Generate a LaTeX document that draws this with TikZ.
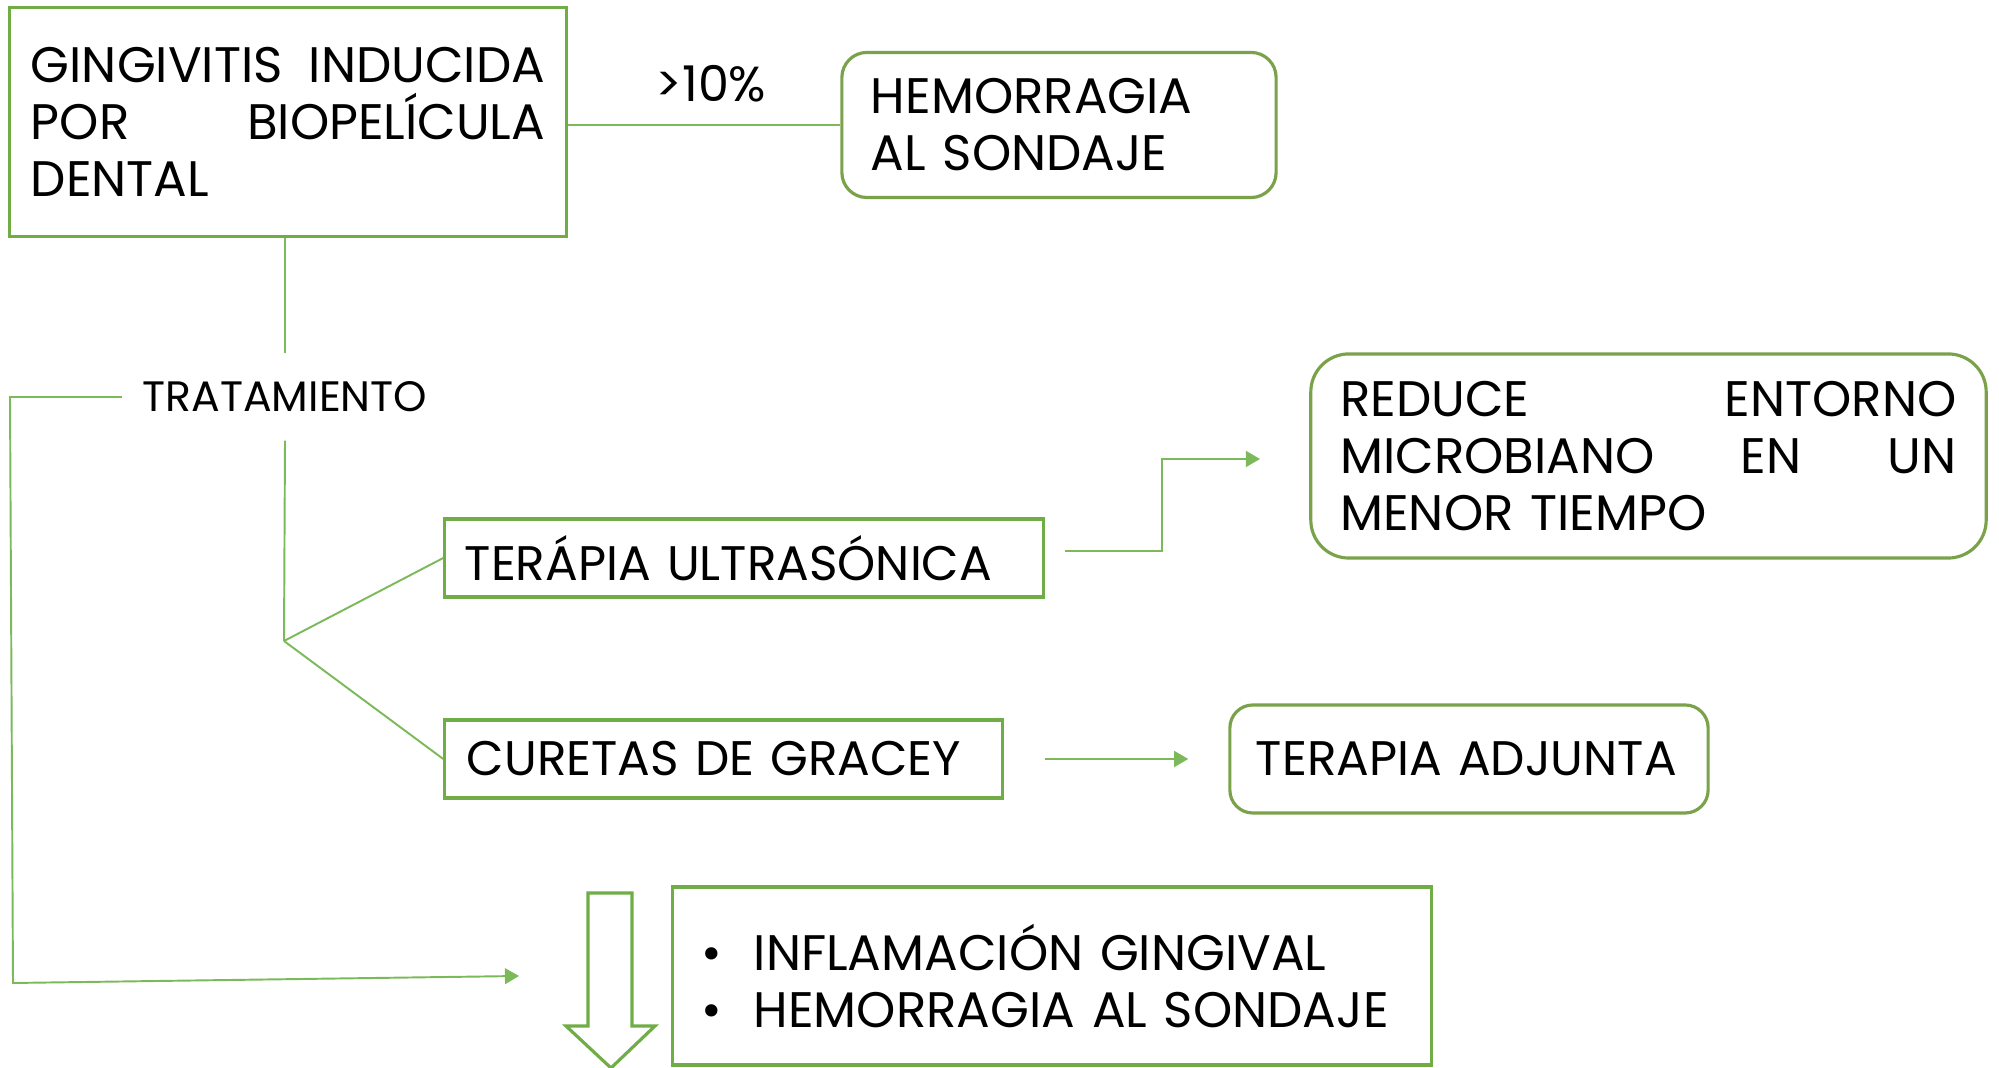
\documentclass[tikz,border=0pt]{standalone}
\usepackage{fontspec}
\setmainfont{Poppins}
\usetikzlibrary{arrows.meta}
\definecolor{gbox}{HTML}{70AD47}
\definecolor{gline}{HTML}{7CB95A}
\definecolor{ground}{HTML}{7AA24A}
\hyphenpenalty=10000\relax
\exhyphenpenalty=10000\relax
\begin{document}
\begin{tikzpicture}[x=0.01cm,y=-0.01cm,
  txt/.style={font=\fontsize{14.2}{16.2}\selectfont, text=black},
  small/.style={font=\fontsize{13.8}{16}\selectfont},
  sqbox/.style={txt, draw=gbox, line width=0.9pt, inner sep=0pt, align=left},
  rbox/.style={txt, draw=ground, line width=0.9pt, rounded corners=0.25cm, inner sep=0pt, align=left},
  conn/.style={draw=gline, line width=0.55pt},
  arr/.style={conn, -{Triangle[length=4pt,width=4.5pt]}}
]
\useasboundingbox (0,0) rectangle (1999,1068);

\node[sqbox, minimum width=5.56cm, minimum height=2.29cm, text width=5.14cm] (gin) at (288,122)
  {\mbox{GINGIVITIS}\hfill \mbox{INDUCIDA}\\POR\hfill \mbox{BIOPELÍCULA}\\DENTAL};
\node[rbox, minimum width=4.34cm, minimum height=1.45cm, text width=3.76cm] (hem) at (1059,125)
  {\mbox{HEMORRAGIA}\\\mbox{AL SONDAJE}};
\node[txt, font=\fontsize{14}{16}\selectfont] (pct) at (711,84) {>10\%};

\node[txt, font=\fontsize{12.1}{14}\selectfont, inner xsep=0.2cm, inner ysep=0pt, minimum height=0.86cm] (tra) at (285,397) {TRATAMIENTO};

\node[sqbox, small, minimum width=5.98cm, minimum height=0.78cm, text width=5.58cm] (ult) at (744,558)
  {\mbox{TERÁPIA ULTRASÓNICA}};
\node[sqbox, small, minimum width=5.57cm, minimum height=0.78cm, text width=5.13cm] (cur) at (723.5,759)
  {\mbox{CURETAS DE GRACEY}};
\node[rbox, rounded corners=0.38cm, minimum width=6.75cm, minimum height=2.04cm, text width=6.16cm] (red) at (1648.5,456)
  {REDUCE\hfill ENTORNO\\MICROBIANO\hfill EN\hfill UN\\\mbox{MENOR TIEMPO}};
\node[rbox, small, rounded corners=0.23cm, minimum width=4.78cm, minimum height=1.08cm, text width=4.26cm] (adj) at (1469,759)
  {\mbox{TERAPIA ADJUNTA}};
\node[sqbox, minimum width=7.58cm, minimum height=1.78cm, text width=7.00cm] (res) at (1052,976)
  {\makebox[0.52cm][l]{•}\mbox{INFLAMACIÓN GINGIVAL}\\\makebox[0.52cm][l]{•}\mbox{HEMORRAGIA AL SONDAJE}};

% block arrow
\draw[draw=gbox, line width=0.9pt, fill=white] (588,893) -- (632,893) -- (632,1026) -- (655,1026)
  -- (611,1068) -- (566,1026) -- (588,1026) -- cycle;

% connectors
\draw[conn] (hem.west -| gin.east) -- (hem.west);
\draw[conn] (tra.north |- gin.south) -- (tra.north);
\coordinate (br) at (284,641);
\draw[conn] (tra.south) -- (br);
\draw[conn] (br) -- (ult.west);
\draw[conn] (br) -- (cur.west);
\coordinate (lc1) at (10,397);
\coordinate (lc2) at (13,983);
\coordinate (lt) at (519,976);
\draw[arr] (tra.west) -- (lc1) -- (lc2) -- (lt);
\coordinate (u1) at (1065,551);
\coordinate (u2) at (1162,551);
\coordinate (u3) at (1162,459);
\coordinate (u4) at (1260,459);
\draw[arr] (u1) -- (u2) -- (u3) -- (u4);
\draw[arr] ([xshift=0.41cm]cur.east) -- ([xshift=-0.4cm]adj.west);
\end{tikzpicture}
\end{document}
